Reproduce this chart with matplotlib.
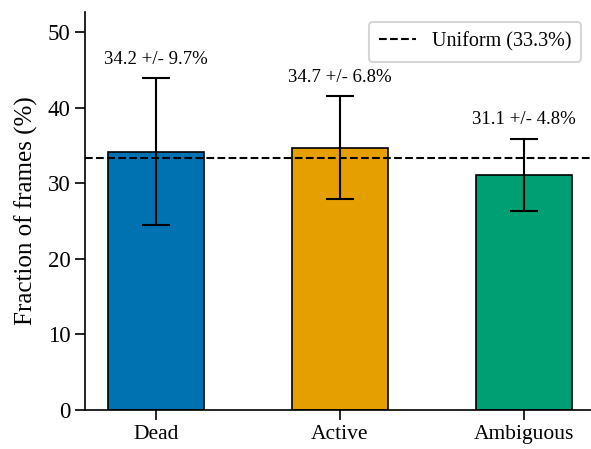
import numpy as np
import matplotlib
matplotlib.use("Agg")
import matplotlib.pyplot as plt

plt.rcParams['font.family'] = ['Liberation Serif', 'DejaVu Serif']

# fraction of frames per state
categories = ["Dead", "Active", "Ambiguous"]
means = [34.2, 34.7, 31.1]
stds = [9.7, 6.8, 4.8]
colors = ["#0072B2", "#E69F00", "#009E73"]
uniform = 100.0 / 3

fig = plt.figure(figsize=(5.91, 4.49), dpi=100)
ax = fig.add_axes([85 / 591, 39 / 449, 510 / 591, 398 / 449])

x = np.arange(len(categories))
ax.bar(x, means, width=0.52, color=colors, edgecolor="black", linewidth=1.2)
ax.errorbar(x, means, yerr=stds, fmt="none", ecolor="black",
            elinewidth=1.5, capsize=10, capthick=1.5)

ax.axhline(uniform, color="black", linestyle="--", linewidth=1.5,
           label="Uniform (%.1f%%)" % uniform)

for xi, m, s in zip(x, means, stds):
    ax.text(xi, m + s + 1.4, "%.1f +/- %.1f%%" % (m, s),
            ha="center", va="bottom", fontsize=13.5)

ax.set_xticks(x)
ax.set_xticklabels(categories, fontsize=15.5)
ax.tick_params(axis="y", labelsize=16.5)
ax.tick_params(width=1.2, length=7)
ax.set_ylabel("Fraction of frames (%)", fontsize=18, labelpad=7)
ax.set_ylim(0, max(m + s for m, s in zip(means, stds)) * 1.2)
ax.set_xlim(-0.386, 2.386)
ax.spines["top"].set_visible(False)
ax.spines["right"].set_visible(False)
ax.spines["left"].set_linewidth(1.2)
ax.spines["bottom"].set_linewidth(1.2)

leg = ax.legend(loc="upper right", fontsize=14.5, bbox_to_anchor=(0.985, 0.99),
                handlelength=1.8, borderaxespad=0.3, borderpad=0.5)
leg.get_frame().set_linewidth(1.5)

fig.savefig("out.png", dpi=100)
